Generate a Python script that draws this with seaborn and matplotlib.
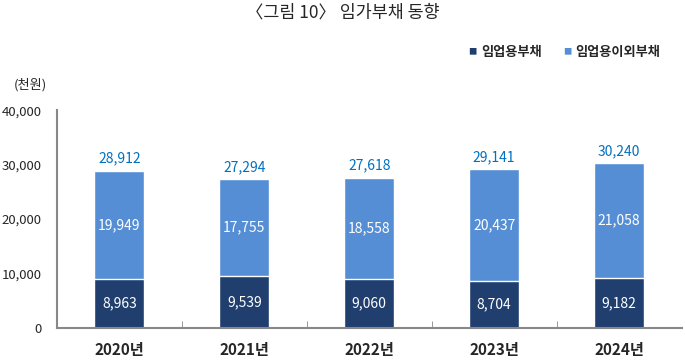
import pandas as pd
import matplotlib.pyplot as plt
import seaborn as sns
from matplotlib.ticker import FuncFormatter, FixedLocator

# data
years = ['2020년', '2021년', '2022년', '2023년', '2024년']
forestry_debt = [8963, 9539, 9060, 8704, 9182]        # 임업용부채
other_debt = [19949, 17755, 18558, 20437, 21058]      # 임업용이외부채
total_debt = [28912, 27294, 27618, 29141, 30240]

df = pd.DataFrame({'year': years, 'forestry': forestry_debt,
                   'other': other_debt, 'total': total_debt})

sns.set_style('white')
plt.rcParams['font.family'] = ['Noto Sans CJK KR', 'DejaVu Sans']

dark = '#203F6E'
light = '#558ED5'
label_blue = '#0070C0'

fig = plt.figure(figsize=(6.85, 3.6), dpi=100)
ax = fig.add_axes([0.083, 0.089, 0.912, 0.605])

# light bar = total height, dark bar drawn on top from zero
sns.barplot(data=df, x='year', y='total', color=light, width=0.4,
            edgecolor='white', linewidth=1, saturation=1, ax=ax)
sns.barplot(data=df, x='year', y='forestry', color=dark, width=0.4,
            edgecolor='white', linewidth=1, saturation=1, ax=ax)

for i, row in df.iterrows():
    ax.text(i, row['forestry'] / 2, f"{row['forestry']:,}", ha='center', va='center',
            color='white', fontsize=10)
    ax.text(i, row['forestry'] + row['other'] / 2, f"{row['other']:,}", ha='center',
            va='center', color='white', fontsize=10)
    ax.text(i, row['total'] + 900, f"{row['total']:,}", ha='center', va='bottom',
            color=label_blue, fontsize=10)

ax.set_ylim(0, 40000)
ax.set_xlim(-0.5, 4.5)
ax.set_yticks([0, 10000, 20000, 30000, 40000])
ax.yaxis.set_major_formatter(FuncFormatter(lambda v, p: f'{int(v):,}'))
ax.xaxis.set_minor_locator(FixedLocator([0.5, 1.5, 2.5, 3.5]))
ax.tick_params(axis='y', which='major', direction='out', length=4, color='#888888',
               labelsize=9.5, pad=7)
ax.tick_params(axis='x', which='major', length=0, labelsize=11, pad=10)
ax.tick_params(axis='x', which='minor', direction='in', length=5, color='#888888', bottom=True)
for lab in ax.get_xticklabels():
    lab.set_fontweight('bold')
ax.set_xlabel('')
ax.set_ylabel('')

for side in ['top', 'right']:
    ax.spines[side].set_visible(False)
for side in ['left', 'bottom']:
    ax.spines[side].set_color('#888888')
    ax.spines[side].set_linewidth(1.5)

fig.text(0.044, 0.765, '(천원)', ha='center', va='center', fontsize=9.5)
fig.text(0.5, 0.965, '〈그림 10〉 임가부채 동향', ha='center', va='center', fontsize=12.5)

# legend
fig.text(0.690, 0.855, '■', color=dark, ha='center', va='center', fontsize=6)
fig.text(0.702, 0.855, '임업용부채', ha='left', va='center', fontsize=9.5, fontweight='bold')
fig.text(0.828, 0.855, '■', color=light, ha='center', va='center', fontsize=6)
fig.text(0.840, 0.855, '임업용이외부채', ha='left', va='center', fontsize=9.5, fontweight='bold')

plt.savefig('out.png', dpi=100)
